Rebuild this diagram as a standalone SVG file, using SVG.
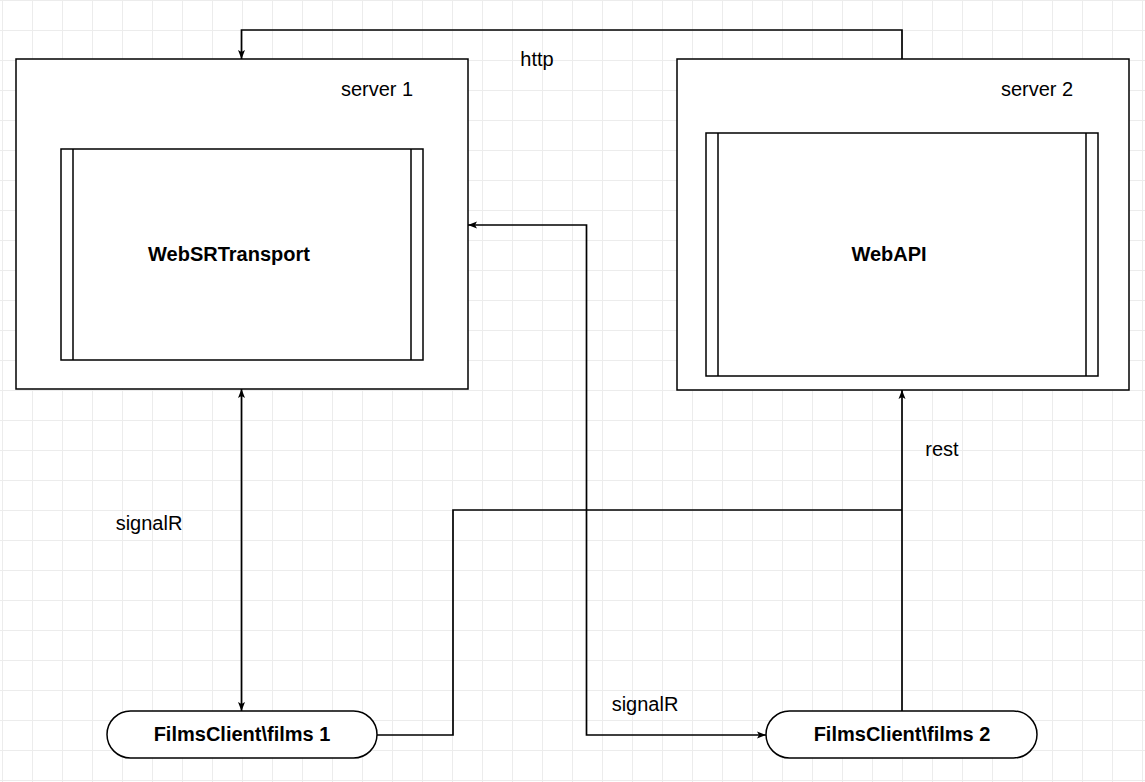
<svg xmlns="http://www.w3.org/2000/svg" width="1145" height="782" viewBox="0 0 1145 782">
<style>
.box{fill:#fff;stroke:#000;stroke-width:1.5}
.in{fill:none;stroke:#000;stroke-width:1.5}
.edge{fill:none;stroke:#000;stroke-width:1.7}
.t{font-family:"Liberation Sans",Arial,sans-serif;font-size:20px;fill:#000;text-anchor:middle}
.b{font-weight:bold}
</style>
<defs>
<pattern id="grid" patternUnits="userSpaceOnUse" x="2" y="0" width="30" height="30">
<path d="M0.5 0V30M0 0.5H30" stroke="#ececec" stroke-width="1" fill="none"/>
</pattern>
<marker id="ah" markerWidth="10" markerHeight="8" refX="9" refY="4" orient="auto-start-reverse" markerUnits="userSpaceOnUse">
<path d="M0 0.5L9 4L0 7.5L2 4Z" fill="#000"/>
</marker>
</defs>
<rect width="1145" height="782" fill="#fff"/>
<rect width="1145" height="782" fill="url(#grid)"/>

<g id="server1">
<rect class="box" x="16" y="59" width="452" height="330"/>
<text class="t" x="377" y="96">server 1</text>
</g>
<g id="webSRTransport">
<rect class="box" x="61" y="149" width="362" height="211"/>
<path class="in" d="M73 149V360M411 149V360"/>
<text class="t b" x="229" y="261">WebSRTransport</text>
</g>
<g id="server2">
<rect class="box" x="677" y="59" width="452" height="331"/>
<text class="t" x="1037" y="96">server 2</text>
</g>
<g id="webAPI">
<rect class="box" x="706" y="133" width="392" height="243"/>
<path class="in" d="M718 133V376M1086 133V376"/>
<text class="t b" x="889" y="261">WebAPI</text>
</g>
<g id="client1">
<rect class="box" x="107" y="711" width="270" height="47" rx="23.5" ry="23.5"/>
<text class="t b" x="242" y="741">FilmsClient\films 1</text>
</g>
<g id="client2">
<rect class="box" x="766" y="711" width="271" height="47" rx="23.5" ry="23.5"/>
<text class="t b" x="902" y="741">FilmsClient\films 2</text>
</g>

<g id="connectors">
<path class="edge" d="M902 59V30H241.5V59" marker-end="url(#ah)"/>
<path class="edge" d="M241.5 389V711" marker-start="url(#ah)" marker-end="url(#ah)"/>
<path class="edge" d="M766 735H586.5V225H468" marker-start="url(#ah)" marker-end="url(#ah)"/>
<path class="edge" d="M377 735H453V510H902"/>
<path class="edge" d="M902 711V390" marker-end="url(#ah)"/>
<text class="t" x="537" y="66">http</text>
<text class="t" x="149" y="530">signalR</text>
<text class="t" x="645" y="711">signalR</text>
<text class="t" x="942" y="456">rest</text>
</g>
</svg>
